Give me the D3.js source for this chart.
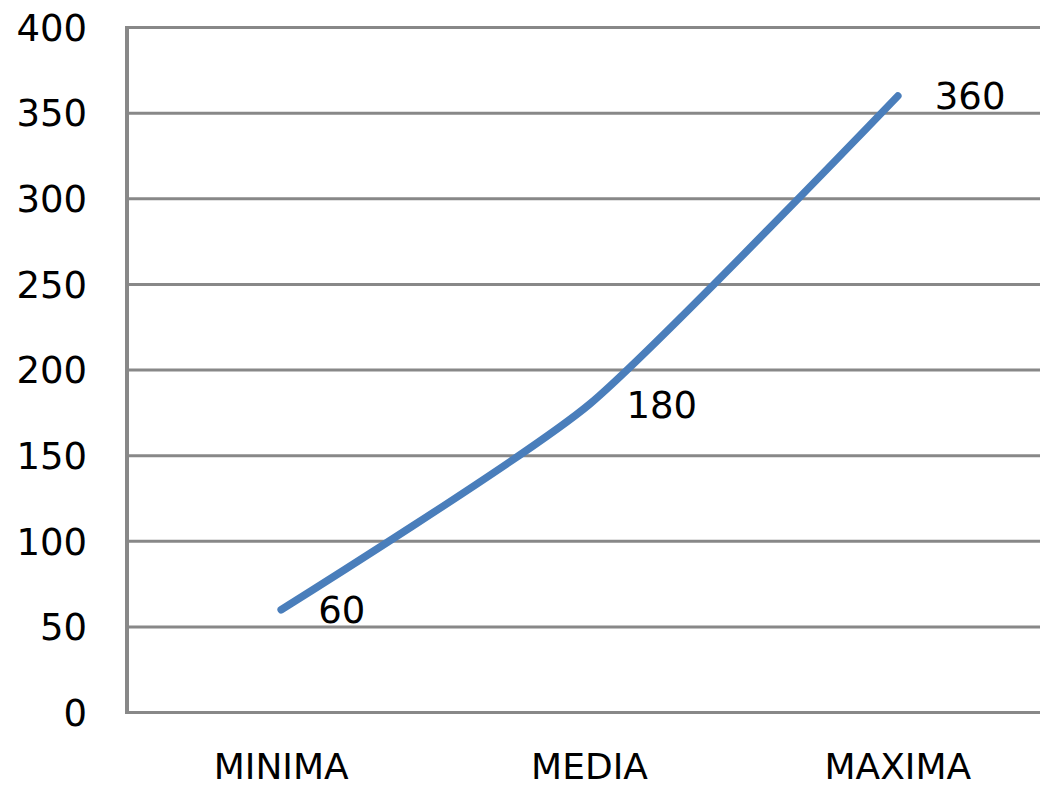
<!DOCTYPE html>
<html>
<head>
<meta charset="utf-8">
<script src="https://d3js.org/d3.v7.min.js"></script>
<style>
  body { margin: 0; background: #fff; }
  svg { display: block; }
</style>
</head>
<body>
<script>
// values
const categories = ["MINIMA", "MEDIA", "MAXIMA"];
const values = [60, 180, 360];
const yTicks = [0, 50, 100, 150, 200, 250, 300, 350, 400];

const width = 1040;
const height = 789;
const font = "'DejaVu Sans', Verdana, sans-serif";

const svg = d3.select("body").append("svg")
  .attr("width", width)
  .attr("height", height);

// plot area runs a little past the right edge of the picture
const x = d3.scaleBand()
  .domain(categories)
  .range([127, 1052]);

const y = d3.scaleLinear()
  .domain([0, 400])
  .range([712.5, 27.5]);

const gray = "#888888";

// horizontal gridlines
svg.append("g").selectAll("line")
  .data(yTicks.filter(d => d > 0))
  .enter()
    .append("line")
    .attr("x1", 127)
    .attr("x2", width)
    .attr("y1", d => y(d))
    .attr("y2", d => y(d))
    .attr("stroke", gray)
    .attr("stroke-width", 3);

// axes lines
svg.append("line")
  .attr("x1", 127).attr("x2", 127)
  .attr("y1", y(400) - 1.5).attr("y2", y(0) + 1.5)
  .attr("stroke", gray).attr("stroke-width", 4);

svg.append("line")
  .attr("x1", 125).attr("x2", width)
  .attr("y1", y(0)).attr("y2", y(0))
  .attr("stroke", gray).attr("stroke-width", 3);

// y tick labels
svg.append("g").selectAll("text")
  .data(yTicks)
  .enter()
    .append("text")
    .attr("x", 87)
    .attr("y", d => y(d))
    .attr("dy", "0.36em")
    .attr("text-anchor", "end")
    .attr("font-family", font)
    .attr("font-size", 37)
    .attr("fill", "#000")
    .text(d => d);

// category labels
svg.append("g").selectAll("text")
  .data(categories)
  .enter()
    .append("text")
    .attr("x", d => x(d) + x.bandwidth() / 2)
    .attr("y", 779)
    .attr("text-anchor", "middle")
    .attr("font-family", font)
    .attr("font-size", 36)
    .attr("fill", "#000")
    .text(d => d);

const points = categories.map((c, i) => [x(c) + x.bandwidth() / 2, y(values[i])]);

const line = d3.line().curve(d3.curveCardinal.tension(0.4));

svg.append("path")
  .attr("d", line(points))
  .attr("fill", "none")
  .attr("stroke", "#4a7ebb")
  .attr("stroke-width", 7.5)
  .attr("stroke-linecap", "round");

// data labels to the right of each point
svg.append("g").selectAll("text")
  .data(points)
  .enter()
    .append("text")
    .attr("x", d => d[0] + 37)
    .attr("y", d => d[1])
    .attr("dy", "0.36em")
    .attr("font-family", font)
    .attr("font-size", 37)
    .attr("fill", "#000")
    .text((d, i) => values[i]);
</script>
</body>
</html>
